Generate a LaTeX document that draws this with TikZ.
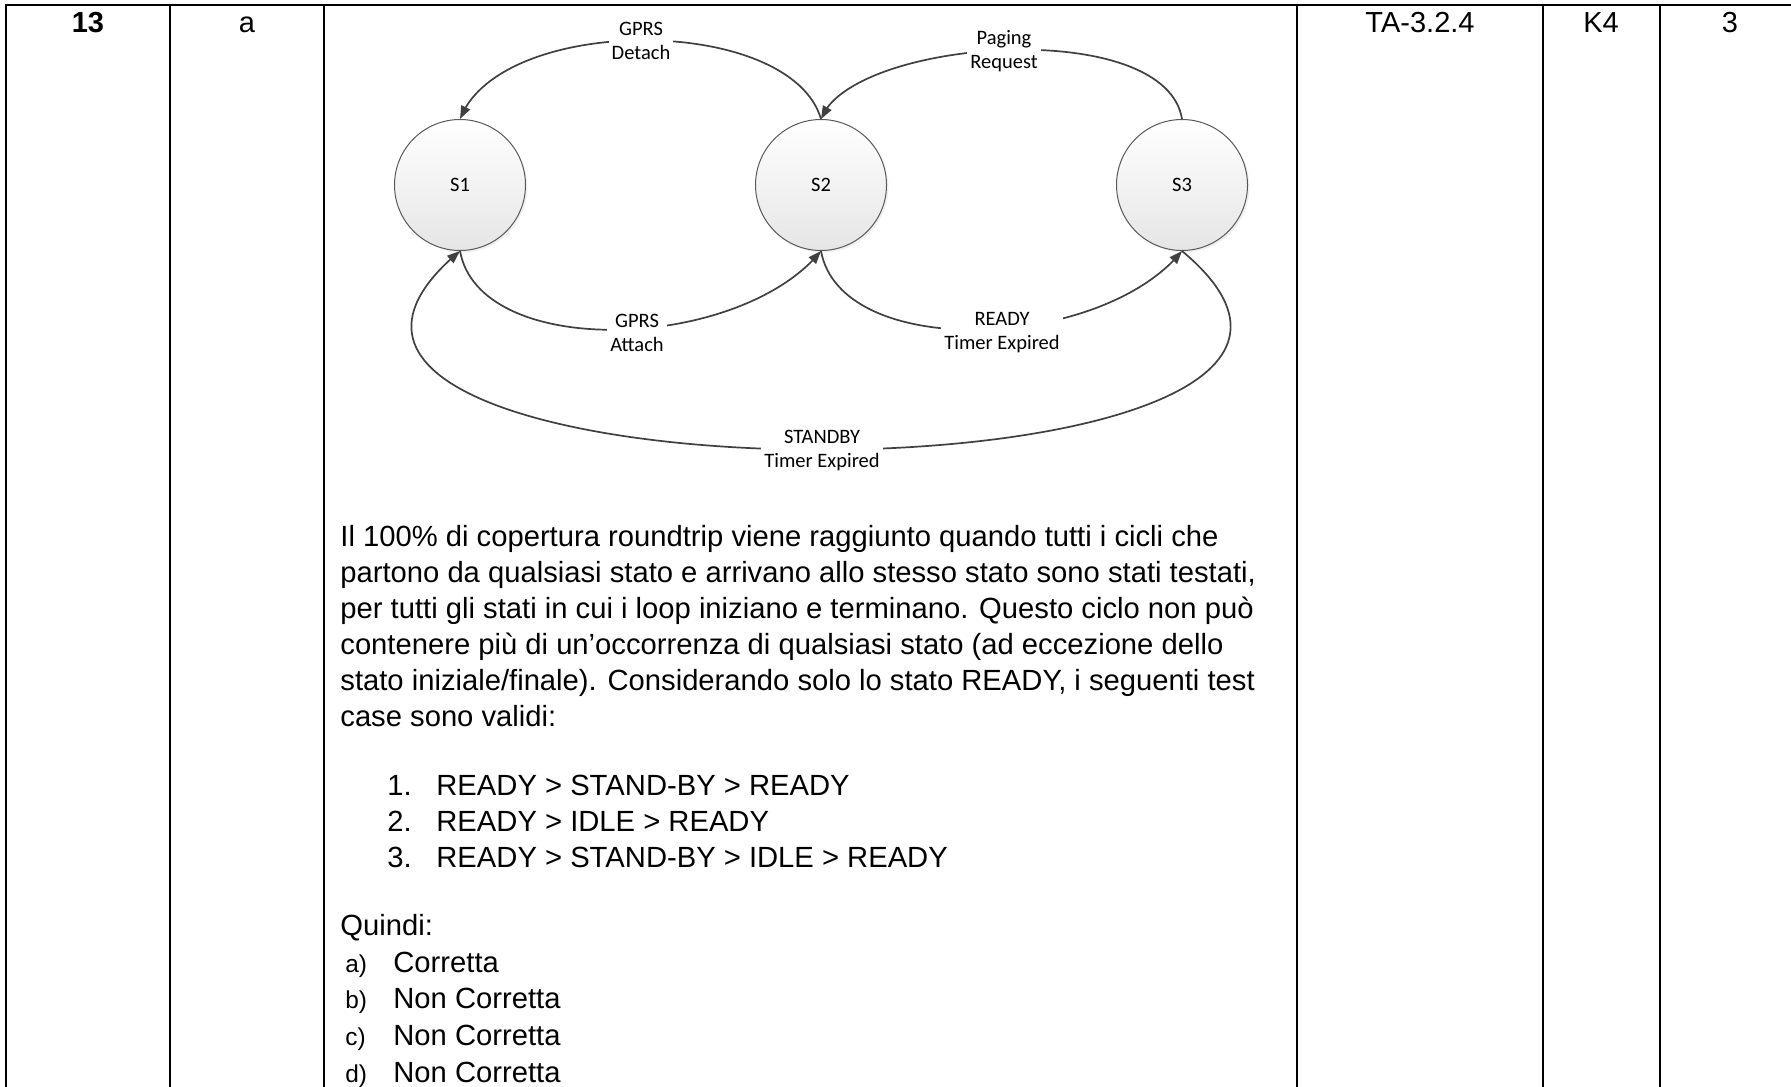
\documentclass[tikz,border=0pt]{standalone}
\usepackage{fontspec}
\setmainfont{Liberation Sans}
\newfontfamily\calibri{Carlito}
\usetikzlibrary{arrows.meta,bending,shadows}
\begin{document}
\begin{tikzpicture}[x=0.5pt,y=-0.5pt,
  rule/.style={line width=1pt, black, line cap=rect},
  state/.style={circle, draw=black!65, line width=0.5pt, minimum size=65.5pt, inner sep=0pt,
     top color=white, bottom color=black!10,
     drop shadow={shadow xshift=1pt, shadow yshift=-1pt, opacity=0.12},
     font=\calibri\fontsize{10.25}{12}\selectfont},
  conn/.style={draw=black!75, line width=0.85pt, -{Triangle[length=6.5pt,width=4.8pt]}},
  lbl/.style={fill=white, inner xsep=1.5pt, inner ysep=0pt, align=center,
     font=\calibri\fontsize{10.25}{12}\selectfont},
  body/.style={anchor=base west, inner sep=0pt, font=\fontsize{14.6}{18}\selectfont},
  smallbody/.style={anchor=base west, inner sep=0pt, font=\fontsize{12.2}{18}\selectfont},
  head/.style={anchor=base, inner sep=0pt, font=\fontsize{14.5}{18}\selectfont},
  headb/.style={anchor=base, inner sep=0pt, font=\fontsize{14.5}{18}\selectfont\bfseries},
]
\useasboundingbox (0,0) rectangle (1791,1086);
% table rules
\draw[rule, line width=1.3pt] (6,5) -- (1795,5);
\foreach \x in {6,170,324,1297,1543,1660} \draw[rule] (\x,5) -- (\x,1090);
% header cells
\node[headb] (c13) at (88,33) {13};
\node[head] (ca) at (247,33) {a};
\node[head] (cta) at (1420,33) {TA-3.2.4};
\node[head] (ck) at (1601,33) {K4};
\node[head] (cn) at (1730,33) {3};
% states
\node[state] (S1) at (460,185) {S1};
\node[state] (S2) at (821,185) {S2};
\node[state] (S3) at (1182,185) {S3};
% transitions
\draw[conn] (S2.north) .. controls +(-31,-105) and +(40,-105) .. (S1.north);
\draw[conn] (S3.north) .. controls +(-17,-104) and +(29,-80) .. (S2.north);
\draw[conn] (S1.south) .. controls +(20,110) and +(-81,100) .. (S2.south);
\draw[conn] (S2.south) .. controls +(20,110) and +(-81,100) .. (S3.south);
\draw[conn] (S3.south) .. controls +(318,265) and +(-318,265) .. (S1.south);
% transition labels
\node[lbl] (L1) at (641,41) {GPRS\\Detach};
\node[lbl] (L2) at (1004,51) {Paging\\Request};
\node[lbl] (L3) at (637,333) {GPRS\\Attach};
\node[lbl] (L4) at (1002,333) {READY\\Timer Expired};
\node[lbl] (L5) at (822,450) {STANDBY\\Timer Expired};
% explanation
\node[body] (p1) at (340,546) {Il 100\% di copertura roundtrip viene raggiunto quando tutti i cicli che};
\node[body] (p2) at (340,582) {partono da qualsiasi stato e arrivano allo stesso stato sono stati testati,};
\node[body] (p3) at (340,618) {per tutti gli stati in cui i loop iniziano e terminano. Questo ciclo non può};
\node[body] (p4) at (340,654) {contenere più di un’occorrenza di qualsiasi stato (ad eccezione dello};
\node[body] (p5) at (340,690) {stato iniziale/finale). Considerando solo lo stato READY, i seguenti test};
\node[body] (p6) at (340,726) {case sono validi:};
% numbered list
\node[body] (n1) at (387,795) {1.};
\node[body] (i1) at (436,795) {READY > STAND-BY > READY};
\node[body] (n2) at (387,831) {2.};
\node[body] (i2) at (436,831) {READY > IDLE > READY};
\node[body] (n3) at (387,867) {3.};
\node[body] (i3) at (436,867) {READY > STAND-BY > IDLE > READY};
% answers
\node[body] (q) at (340,935) {Quindi:};
\node[smallbody] (ka) at (345,972) {a)};
\node[body] (va) at (393,972) {Corretta};
\node[smallbody] (kb) at (345,1008) {b)};
\node[body] (vb) at (393,1008) {Non Corretta};
\node[smallbody] (kc) at (345,1045) {c)};
\node[body] (vc) at (393,1045) {Non Corretta};
\node[smallbody] (kd) at (345,1082) {d)};
\node[body] (vd) at (393,1082) {Non Corretta};
\end{tikzpicture}
\end{document}
